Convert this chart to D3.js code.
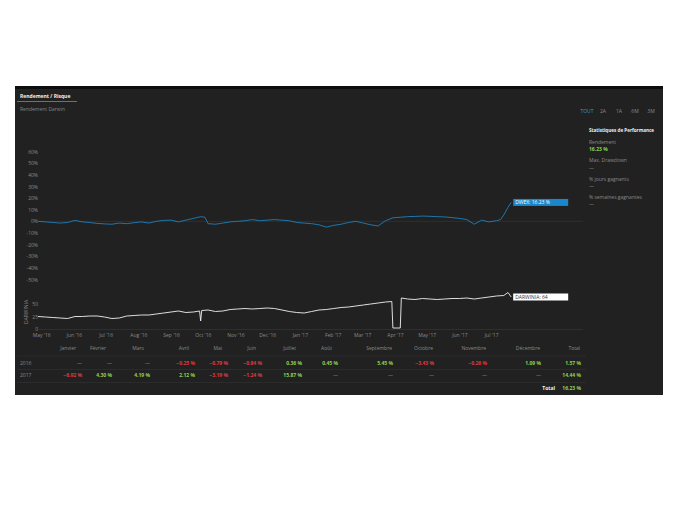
<!DOCTYPE html>
<html>
<head>
<meta charset="utf-8">
<script src="https://cdn.jsdelivr.net/npm/d3@7/dist/d3.min.js"></script>
<style>
  html, body { margin: 0; padding: 0; background: #ffffff; }
  svg { display: block; font-family: "Open Sans", "Noto Sans", sans-serif; }
</style>
</head>
<body>
<svg id="chart" width="680" height="525"></svg>
<script>
// ---------------- DATA ----------------
const dwexDates = [
  "2016-04-28","2016-05-05","2016-05-12","2016-05-19","2016-05-26","2016-06-02","2016-06-09","2016-06-16",
  "2016-06-23","2016-06-30","2016-07-07","2016-07-14","2016-07-21","2016-07-28","2016-08-04","2016-08-11",
  "2016-08-18","2016-08-25","2016-09-01","2016-09-08","2016-09-15","2016-09-22","2016-09-29","2016-10-03",
  "2016-10-06","2016-10-13","2016-10-20","2016-10-27","2016-11-03","2016-11-10","2016-11-17","2016-11-24",
  "2016-12-01","2016-12-08","2016-12-15","2016-12-22","2016-12-29","2017-01-05","2017-01-12","2017-01-19",
  "2017-01-26","2017-02-02","2017-02-09","2017-02-16","2017-02-23","2017-03-02","2017-03-09","2017-03-16",
  "2017-03-23","2017-03-30","2017-04-06","2017-04-13","2017-04-20","2017-04-27","2017-05-04","2017-05-11",
  "2017-05-18","2017-05-25","2017-06-01","2017-06-08","2017-06-15","2017-06-22","2017-06-29","2017-07-06",
  "2017-07-10","2017-07-13","2017-07-17","2017-07-20"
];
const dwexValues = [
  0.0,-0.5,-1.0,-1.5,-1.0,0.8,-0.5,-1.0,
  -1.8,-2.2,-2.5,-1.5,-2.0,-1.2,-0.5,-1.5,
  0.0,0.8,1.0,-0.5,1.0,2.5,4.0,3.5,
  -2.0,-2.5,-1.5,-0.5,0.0,0.5,1.5,0.5,
  1.0,1.5,1.0,0.5,-1.0,-1.5,-2.0,-3.0,
  -5.0,-3.5,-2.5,-1.0,0.0,-1.5,-3.0,-4.0,
  0.5,3.0,3.5,4.0,4.2,4.5,4.3,4.0,
  3.8,3.2,2.5,1.5,-2.5,1.0,-0.5,0.5,
  1.5,5.5,12.0,16.23
];

const darwiniaDates = [
  "2016-04-28","2016-05-05","2016-05-12","2016-05-19","2016-05-26","2016-06-02","2016-06-09","2016-06-16",
  "2016-06-23","2016-06-30","2016-07-07","2016-07-14","2016-07-21","2016-07-28","2016-08-04","2016-08-11",
  "2016-08-18","2016-08-25","2016-09-01","2016-09-08","2016-09-15","2016-09-22","2016-09-28","2016-09-29",
  "2016-09-30","2016-10-06","2016-10-13","2016-10-20","2016-10-27","2016-11-03","2016-11-10","2016-11-17",
  "2016-11-24","2016-12-01","2016-12-08","2016-12-15","2016-12-22","2016-12-29","2017-01-05","2017-01-12",
  "2017-01-19","2017-01-26","2017-02-02","2017-02-09","2017-02-16","2017-02-23","2017-03-02","2017-03-09",
  "2017-03-16","2017-03-23","2017-03-29","2017-03-30","2017-04-06","2017-04-07","2017-04-13","2017-04-20",
  "2017-04-27","2017-05-04","2017-05-11","2017-05-18","2017-05-25","2017-06-01","2017-06-08","2017-06-15",
  "2017-06-22","2017-06-29","2017-07-06","2017-07-13","2017-07-17","2017-07-20"
];
const darwiniaValues = [
  25,24,23,22,21,25,25,26,
  26,24,21,22,26,27,28,28,
  30,32,34,36,33,34,36,16,
  37,38,35,36,39,40,41,40,
  41,42,41,38,35,33,32,35,
  38,39,41,43,44,46,48,50,
  52,54,55,2,2,62,60,59,
  61,60,59,60,61,61,62,60,
  62,64,66,67,73,64
];

const topTicks = [-50,-40,-30,-20,-10,0,10,20,30,40,50,60];
const bottomTicks = [0,25,50];
const rangeButtons = ["TOUT","2A","1A","6M","3M"];
const statsLabels = ["Rendement","Max. Drawdown","% jours gagnants","% semaines gagnantes"];
const statsValues = ["16.23 %","—","—","—"];

const months = ["Janvier","Février","Mars","Avril","Mai","Juin","Juillet","Août","Septembre","Octobre","Novembre","Décembre","Total"];
const years = ["2016","2017"];
const returns2016 = [null,null,null,-0.25,-0.79,-0.84,0.36,0.45,5.45,-3.43,-0.26,1.09,1.57];
const returns2017 = [-6.92,4.30,4.19,2.12,-3.19,-1.24,15.87,null,null,null,null,null,14.44];
const grandTotal = 16.23;

// ---------------- LAYOUT / STYLE ----------------
const svg = d3.select("#chart");
const BG = "#212121", GRID = "#333333", TXT = "#8a8a8a";
const BLUE = "#1f7fba", BLUEBOX = "#1a86cc", GREEN = "#8fd14f", RED = "#e0383e";
const FS = 5;

svg.append("rect").attr("x", 15).attr("y", 86).attr("width", 648).attr("height", 309).attr("fill", BG);
svg.append("rect").attr("x", 15).attr("y", 86).attr("width", 648).attr("height", 3).attr("fill", "#0d0d0d");

// header tab
svg.append("text").attr("x", 20).attr("y", 97.5).attr("fill", "#f0f0f0").attr("font-size", 5)
  .attr("font-weight", "bold").text("Rendement / Risque");
svg.append("line").attr("x1", 17).attr("x2", 77).attr("y1", 101.5).attr("y2", 101.5)
  .attr("stroke", "#2a86c0").attr("stroke-width", 1);
svg.append("text").attr("x", 20).attr("y", 110.5).attr("fill", "#858585").attr("font-size", FS)
  .text("Rendement Darwin");

// range buttons
const btnX = d3.scalePoint().domain(rangeButtons).range([587, 651]);
svg.append("g").selectAll("text").data(rangeButtons).join("text")
  .attr("x", d => btnX(d)).attr("y", 113).attr("text-anchor", "middle")
  .attr("font-size", FS).attr("fill", (d, i) => i === 0 ? "#2b9ae0" : TXT).text(d => d);

// stats block
svg.append("text").attr("x", 589).attr("y", 131.5).attr("fill", "#f0f0f0").attr("font-size", 4.6)
  .attr("font-weight", "bold").text("Statistiques de Performance");
const statY = d3.scaleLinear().domain([0, 3]).range([144, 199]);
statsLabels.forEach((lab, i) => {
  svg.append("text").attr("x", 589).attr("y", statY(i)).attr("fill", TXT).attr("font-size", FS).text(lab);
  svg.append("text").attr("x", 589).attr("y", statY(i) + 7.2).attr("font-size", FS)
    .attr("fill", i === 0 ? GREEN : TXT).attr("font-weight", i === 0 ? "bold" : "normal").text(statsValues[i]);
});

// scales
const parse = d3.timeParse("%Y-%m-%d");
const x = d3.scaleTime().domain([parse("2016-04-28"), parse("2017-09-26")]).range([38, 583]);
const yTop = d3.scaleLinear().domain([-50, 60]).range([279.5, 151.5]);
const yBot = d3.scaleLinear().domain([0, 50]).range([329, 304]);

// top axis labels
const gTop = svg.append("g").attr("transform", "translate(39,0)")
  .call(d3.axisLeft(yTop).tickValues(topTicks).tickSize(0).tickPadding(1).tickFormat(d => d + "%"));
gTop.select(".domain").remove();
gTop.selectAll("text").attr("fill", TXT).attr("font-size", FS).attr("font-family", "Open Sans");
// zero line
svg.append("line").attr("x1", x.range()[0]).attr("x2", x.range()[1])
  .attr("y1", yTop(0)).attr("y2", yTop(0)).attr("stroke", GRID).attr("stroke-width", 0.8);

// DWEX line
const dwex = dwexDates.map((d, i) => ({ date: parse(d), v: dwexValues[i] }));
svg.append("path").datum(dwex).attr("fill", "none").attr("stroke", BLUE).attr("stroke-width", 0.9)
  .attr("d", d3.line().x(d => x(d.date)).y(d => yTop(d.v)));
const lastD = dwex[dwex.length - 1];
svg.append("rect").attr("x", x(lastD.date) + 2).attr("y", yTop(lastD.v) - 3.5).attr("width", 55).attr("height", 7)
  .attr("fill", BLUEBOX);
svg.append("text").attr("x", x(lastD.date) + 4).attr("y", yTop(lastD.v) + 1.8).attr("fill", "#ffffff")
  .attr("font-size", FS).text("DWEX: " + d3.format(".2f")(lastD.v) + " %");

// bottom chart
const gBot = svg.append("g").attr("transform", "translate(39,0)")
  .call(d3.axisLeft(yBot).tickValues(bottomTicks).tickSize(0).tickPadding(1));
gBot.select(".domain").remove();
gBot.selectAll("text").attr("fill", TXT).attr("font-size", FS).attr("font-family", "Open Sans");
svg.append("text").attr("transform", `translate(27.5,${yBot(34)}) rotate(-90)`).attr("text-anchor", "middle")
  .attr("fill", TXT).attr("font-size", FS).text("DARWINIA");

svg.append("line").attr("x1", x.range()[0]).attr("x2", x.range()[1])
  .attr("y1", yBot(0) + 0.5).attr("y2", yBot(0) + 0.5).attr("stroke", GRID).attr("stroke-width", 0.8);

const darw = darwiniaDates.map((d, i) => ({ date: parse(d), v: darwiniaValues[i] }));
svg.append("path").datum(darw).attr("fill", "none").attr("stroke", "#f2f2f2").attr("stroke-width", 0.9)
  .attr("d", d3.line().x(d => x(d.date)).y(d => yBot(d.v)));
const lastW = darw[darw.length - 1];
svg.append("rect").attr("x", x(lastW.date) + 2).attr("y", yBot(lastW.v) - 3.5).attr("width", 55).attr("height", 7)
  .attr("fill", "#ffffff");
svg.append("text").attr("x", x(lastW.date) + 4).attr("y", yBot(lastW.v) + 1.8).attr("fill", "#333")
  .attr("font-size", FS).text("DARWINIA: " + lastW.v);

// x axis
const gX = svg.append("g").attr("transform", `translate(0,${yBot(0)})`)
  .call(d3.axisBottom(x).ticks(d3.timeMonth.every(1)).tickSize(0).tickPadding(4.5)
    .tickFormat(d3.timeFormat("%b '%y")));
gX.select(".domain").remove();
gX.selectAll(".tick").filter(d => d > parse("2017-07-20")).remove();
gX.selectAll("text").attr("fill", TXT).attr("font-size", FS).attr("font-family", "Open Sans");

// ---------------- TABLE ----------------
const colRight = [82, 112, 150, 195, 228, 262, 302, 338, 393, 434, 487, 541, 581];
const rowY = { head: 350, r0: 364.5, r1: 377, tot: 390 };
const sepY = [356, 369.5, 382.5];
sepY.forEach(yy => svg.append("line").attr("x1", 17).attr("x2", 586).attr("y1", yy).attr("y2", yy)
  .attr("stroke", "#2e2e2e").attr("stroke-width", 0.8));

svg.append("g").selectAll("text").data(months).join("text")
  .attr("x", (d, i) => colRight[i] - (i < 8 ? 6 : 1)).attr("y", rowY.head).attr("text-anchor", "end")
  .attr("fill", TXT).attr("font-size", FS).text(d => d);

const fmtCell = v => v === null ? "—" : d3.format(".2f")(v) + " %";
const colCell = v => v === null ? TXT : (v < 0 ? RED : GREEN);
[[returns2016, rowY.r0], [returns2017, rowY.r1]].forEach(([row, yy], r) => {
  svg.append("text").attr("x", 20).attr("y", yy).attr("fill", TXT).attr("font-size", FS).text(years[r]);
  svg.append("g").selectAll("text").data(row).join("text")
    .attr("x", (d, i) => colRight[i]).attr("y", yy).attr("text-anchor", "end")
    .attr("fill", d => colCell(d)).attr("font-size", FS).attr("font-weight", d => d === null ? "normal" : "bold")
    .text(d => fmtCell(d));
});
svg.append("text").attr("x", 555).attr("y", rowY.tot).attr("text-anchor", "end").attr("fill", "#f0f0f0")
  .attr("font-size", FS).attr("font-weight", "bold").text("Total");
svg.append("text").attr("x", colRight[12]).attr("y", rowY.tot).attr("text-anchor", "end").attr("fill", GREEN)
  .attr("font-size", FS).attr("font-weight", "bold").text(fmtCell(grandTotal));
</script>
</body>
</html>
